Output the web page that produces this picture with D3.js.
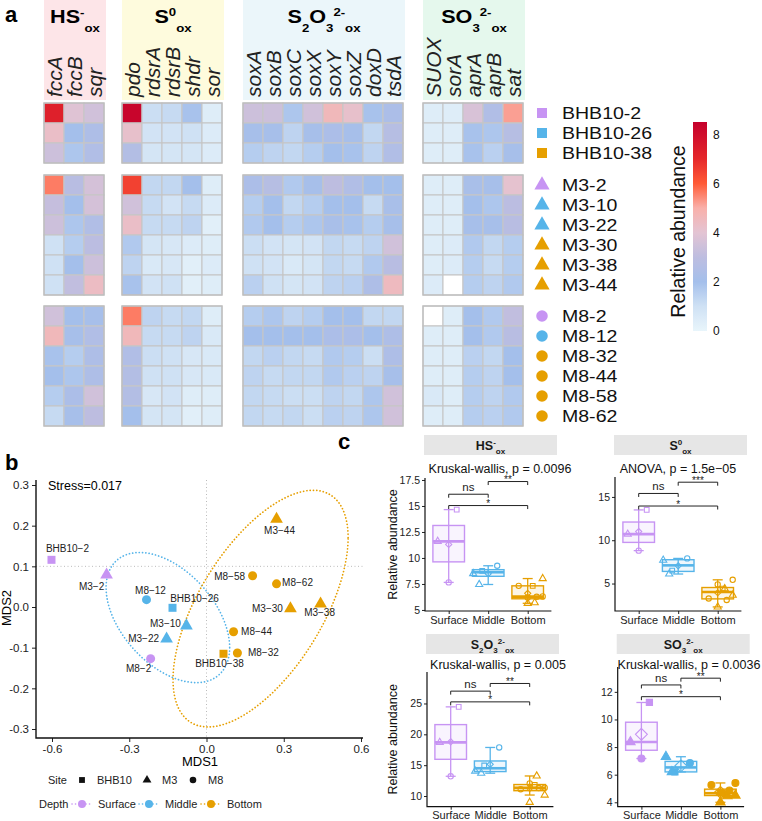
<!DOCTYPE html>
<html>
<head>
<meta charset="utf-8">
<script src="https://cdn.jsdelivr.net/npm/d3@7"></script>
<style>
  body { margin: 0; background: #fff; }
  svg { font-family: "Liberation Sans", Arial, sans-serif; }
</style>
</head>
<body>
<div id="root"></div>
<script>
// ---------- data ----------
const genesHS   = ['fccA', 'fccB', 'sqr'];
const genesS0   = ['pdo', 'rdsrA', 'rdsrB', 'shdr', 'sor'];
const genesS2O3 = ['soxA', 'soxB', 'soxC', 'soxX', 'soxY', 'soxZ', 'doxD', 'tsdA'];
const genesSO3  = ['SUOX', 'sorA', 'aprA', 'aprB', 'sat'];
const groupGenes = [genesHS, genesS0, genesS2O3, genesSO3];

// title pieces: m = main, p = superscript, b = subscript
const groupTitles = [
  [['HS', 'm'], ['-', 'p'], ['ox', 'b']],
  [['S', 'm'], ['0', 'p'], ['ox', 'b']],
  [['S', 'm'], ['2', 'b'], ['O', 'm'], ['3', 'b'], ['2-', 'p'], ['ox', 'b']],
  [['SO', 'm'], ['3', 'b'], ['2-', 'p'], ['ox', 'b']]
];

const samples = ['BHB10-2', 'BHB10-26', 'BHB10-38', 'M3-2', 'M3-10', 'M3-22', 'M3-30', 'M3-38', 'M3-44',
                 'M8-2', 'M8-12', 'M8-32', 'M8-44', 'M8-58', 'M8-62'];
const sampleSite  = ['BHB10', 'BHB10', 'BHB10', 'M3', 'M3', 'M3', 'M3', 'M3', 'M3', 'M8', 'M8', 'M8', 'M8', 'M8', 'M8'];
const sampleDepth = ['Surface', 'Middle', 'Bottom', 'Surface', 'Middle', 'Middle', 'Bottom', 'Bottom', 'Bottom',
                     'Surface', 'Middle', 'Bottom', 'Bottom', 'Bottom', 'Bottom'];
const sites  = ['BHB10', 'M3', 'M8'];
const depths = ['Surface', 'Middle', 'Bottom'];

// relative abundance, rows = samples, cols = HS(3) S0(5) S2O3(8) SO3(5)
const abundance = [
  [7.3, 3.9, 3.5,  8.3, 1.1, 1.2, 1.9, 0.4,  3.4, 3.4, 1.8, 3.5, 4.6, 4.2, 1.9, 2.3,  0.4, 0.4, 3.7, 2.5, 5.2],
  [4.3, 2.0, 2.4,  4.2, 0.9, 0.9, 1.0, 0.5,  2.1, 2.1, 1.4, 2.1, 2.3, 2.1, 1.3, 2.7,  0.4, 0.4, 1.9, 1.8, 2.7],
  [3.4, 1.8, 2.5,  2.6, 0.8, 0.8, 0.8, 0.5,  1.6, 1.4, 1.3, 1.6, 2.0, 1.9, 1.4, 2.5,  0.4, 0.4, 1.9, 1.5, 2.1],
  [5.6, 2.8, 3.6,  6.5, 1.3, 1.3, 2.0, 0.4,  2.3, 2.7, 1.7, 2.1, 3.0, 2.5, 2.0, 2.0,  0.4, 0.4, 2.2, 2.1, 4.1],
  [3.2, 2.0, 3.6,  3.5, 1.2, 0.9, 1.2, 0.5,  1.6, 2.0, 1.3, 1.6, 2.0, 2.0, 1.2, 2.2,  0.4, 0.4, 2.0, 1.8, 2.9],
  [3.4, 1.8, 2.5,  4.3, 1.2, 1.2, 1.4, 0.3,  1.7, 2.0, 1.6, 1.8, 2.2, 1.9, 1.6, 2.1,  0.4, 0.4, 2.1, 2.1, 2.8],
  [1.0, 1.6, 2.9,  1.7, 0.8, 0.7, 0.5, 0.4,  1.1, 0.9, 0.8, 0.9, 1.3, 1.2, 1.4, 3.5,  0.4, 0.5, 1.7, 1.3, 1.6],
  [1.0, 2.0, 3.4,  1.4, 0.6, 0.7, 0.3, 0.5,  1.0, 0.9, 0.6, 0.8, 1.3, 1.2, 1.7, 2.8,  0.4, 0.5, 1.6, 1.2, 1.6],
  [1.0, 3.1, 4.4,  1.9, 0.9, 1.0, 0.3, 0.4,  1.5, 1.0, 0.8, 0.9, 1.4, 1.5, 2.4, 4.5,  0.5, 0.0, 1.6, 1.4, 1.7],
  [3.5, 2.0, 2.1,  5.6, 1.4, 1.2, 1.3, 0.4,  1.6, 1.8, 1.4, 1.6, 2.0, 2.0, 1.3, 1.3,  0.0, 0.4, 2.0, 1.7, 3.1],
  [4.6, 2.1, 2.5,  4.6, 1.2, 1.2, 1.4, 0.6,  2.0, 2.0, 2.0, 2.0, 2.3, 2.3, 2.0, 2.4,  0.4, 0.4, 2.0, 1.7, 2.8],
  [1.9, 1.6, 2.4,  2.5, 1.1, 1.0, 0.7, 0.6,  1.3, 1.5, 1.3, 1.2, 1.7, 1.6, 1.1, 2.4,  0.4, 0.4, 1.5, 1.3, 2.0],
  [2.0, 1.8, 2.4,  2.6, 1.0, 1.0, 0.7, 0.6,  1.4, 1.2, 1.3, 1.3, 1.7, 1.5, 1.4, 2.1,  0.4, 0.4, 1.6, 1.4, 2.0],
  [1.6, 2.3, 3.5,  2.6, 0.7, 0.9, 0.4, 0.4,  1.3, 1.2, 1.1, 1.1, 1.4, 1.3, 1.8, 3.5,  0.6, 0.4, 1.6, 1.4, 1.7],
  [1.2, 2.1, 3.0,  2.0, 0.8, 0.8, 0.3, 0.4,  1.3, 1.2, 1.3, 1.1, 1.5, 1.4, 1.8, 3.5,  0.4, 0.4, 1.6, 1.5, 1.7]
];
const colorTicks = [0, 2, 4, 6, 8];

// NMDS scores
const mds1 = [-0.602, -0.132, 0.066, -0.388, -0.078, -0.155, 0.326, 0.443, 0.272, -0.217, -0.233, 0.12, 0.105, 0.179, 0.272];
const mds2 = [0.116, -0.002, -0.115, 0.079, -0.046, -0.078, -0.004, 0.008, 0.216, -0.127, 0.018, -0.113, -0.061, 0.077, 0.057];
const stress = 0.017;
const mdsTicksX = [-0.6, -0.3, 0, 0.3, 0.6];
const mdsTicksY = [-0.3, -0.2, -0.1, 0, 0.1, 0.2, 0.3];
// depth ellipses (centre, half width, half height, correlation) in MDS units
const ellDepth  = ['Middle', 'Bottom'];
const ellCenter = [[-0.15, -0.026], [0.21, -0.004]];
const ellHalfW  = [0.24, 0.34];
const ellHalfH  = [0.16, 0.291];
const ellRho    = [-0.46, 0.6];

// summed abundance per pathway (panel c)
const sumHS   = [14.65, 8.75, 7.32, 11.6, 8.5, 7.45, 8.02, 5.64, 5.7, 7.65, 9.25, 7.32, 6.27, 6.3, 6.2];
const sumS0   = [13.5, 6.5, 4.42, 10.7, 7.7, 6.1, 3.65, 2.3, 4.4, 8.8, 7.9, 3.27, 3.1, 5.43, 4.9];
const sumS2O3 = [24.45, 14.95, 11.8, 18.7, 14.05, 13.7, 10.16, 8.98, 13.25, 13.2, 17.87, 11.1, 11.3, 11.35, 12.05];
const sumSO3  = [11.23, 6.2, 4.6, 8.37, 7.3, 6.2, 4.5, 4.0, 4.45, 7.17, 6.85, 5.25, 4.85, 5.4, 4.7];
const boxValues = [sumHS, sumS0, sumS2O3, sumSO3];
const testTitles = ['Kruskal-wallis, p = 0.0096', 'ANOVA, p = 1.5e\u221205', 'Kruskal-wallis, p = 0.005', 'Kruskal-wallis, p = 0.0036'];
const yDomains = [[4.9, 17.69], [1.83, 17.3], [8.27, 30.1], [3.68, 13.8]];
const yTicks = [[5, 7.5, 10, 12.5, 15, 17.5], [5, 10, 15], [10, 15, 20, 25], [4, 6, 8, 10, 12]];
const sigPairs  = [[0, 1], [1, 2], [0, 2]];
const sigLabels = [['ns', '**', '*'], ['ns', '***', '*'], ['ns', '**', '*'], ['ns', '**', '*']];
const sigY = [[16.13, 17.35, 15.04], [15.4, 16.7, 13.95], [27.0, 28.24, 25.26], [12.5, 12.99, 11.65]];

// ---------- styles / layout ----------
const depthColor = d3.scaleOrdinal().domain(depths).range(['#c794f3', '#56b4e9', '#e69f00']);
const siteShape  = d3.scaleOrdinal().domain(sites).range([d3.symbolSquare, d3.symbolTriangle, d3.symbolCircle]);
const heat = d3.scaleLinear()
  .domain([0, 1, 2, 3, 4, 5, 6, 7, 8.5])
  .range(['#e8f5fb', '#cfe1f4', '#a4bfeb', '#bdbde0', '#e3c4d3', '#f9b0aa', '#ff5a36', '#e5282b', '#c4002c'])
  .clamp(true);

const HM = { blockX: [44, 122, 243, 423], blockY: [103, 175, 306], cell: 20,
             headFill: ['#fde5e8', '#fefbdd', '#ebf6fa', '#e5f8ed'] };
const labelOff = [[16, -11], [22, -9], [-4, 10], [-15, 12], [-21, -2], [-23, 0], [-23, 0], [-1, 9], [3, 11],
                  [-12, 10], [4, -9], [26, -1], [23, 0], [-23, 1], [21, -1]];
const jitter = [8, -6, 5, -11, -15, -9, 15, 0, 7, 0, 9, -9, 9, 15, 0];
const cPanels = [
  { axisX: 425,   top: 478, bottom: 611,   stripY: 435, titleX: 500, titleY: 472.5, diam: 24, filled: false, ylab: true },
  { axisX: 615,   top: 477, bottom: 611,   stripY: 435, titleX: 678, titleY: 472.5, diam: 24, filled: false, ylab: false },
  { axisX: 427,   top: 672, bottom: 806.7, stripY: 634, titleX: 498, titleY: 668.5, diam: 24, filled: false, ylab: true },
  { axisX: 617.7, top: 667, bottom: 806.7, stripY: 634, titleX: 689, titleY: 668.5, diam: 90, filled: true, ylab: false }
];

const svg = d3.select('#root').append('svg').attr('width', 762).attr('height', 821);

function richText(sel, parts, big, small, up, down) {
  let cur = 0;
  parts.forEach(([t, k]) => {
    const target = k === 'p' ? -up : k === 'b' ? down : 0;
    sel.append('tspan').text(t).attr('font-size', k === 'm' ? big : small).attr('dy', target - cur);
    cur = target;
  });
}

function panelLetter(t, x, y) {
  svg.append('text').attr('x', x).attr('y', y).attr('font-size', 22).attr('font-weight', 'bold').text(t);
}

// ---------- panel a : heatmap ----------
panelLetter('a', 5, 22);
const hm = svg.append('g');
let colOffset = 0;
groupGenes.forEach((genes, gi) => {
  const x = d3.scaleBand().domain(genes).range([HM.blockX[gi], HM.blockX[gi] + HM.cell * genes.length]);
  const off = colOffset;
  hm.append('rect').attr('x', x.range()[0]).attr('y', 0)
    .attr('width', x.range()[1] - x.range()[0] + 2).attr('height', 100).attr('fill', HM.headFill[gi]);

  const title = hm.append('text').attr('text-anchor', 'middle').attr('font-weight', 'bold')
    .attr('transform', `translate(${(x.range()[0] + x.range()[1]) / 2 + 1},22.7) scale(1.2,1)`);
  richText(title, groupTitles[gi], 18, 11, 6.5, 9.5);

  hm.selectAll(null).data(genes).enter().append('text')
    .attr('transform', d => `translate(${x(d) + x.bandwidth() / 2 + 8},97) rotate(-90)`)
    .attr('font-size', 21).attr('font-style', 'italic').attr('fill', '#222').text(d => d);

  sites.forEach((site, si) => {
    const rows = samples.filter((s, i) => sampleSite[i] === site);
    const y = d3.scaleBand().domain(rows).range([HM.blockY[si], HM.blockY[si] + HM.cell * rows.length]);
    const cells = [];
    rows.forEach(r => genes.forEach((g, j) => cells.push({ r, g, v: abundance[samples.indexOf(r)][off + j] })));
    hm.append('g').selectAll('rect').data(cells).enter().append('rect')
      .attr('x', d => x(d.g)).attr('y', d => y(d.r))
      .attr('width', x.bandwidth()).attr('height', y.bandwidth())
      .attr('fill', d => d.v <= 0 ? '#ffffff' : heat(d.v))
      .attr('stroke', '#c6c6c6').attr('stroke-width', 1.1);
    hm.append('rect').attr('x', x.range()[0]).attr('y', y.range()[0])
      .attr('width', x.range()[1] - x.range()[0]).attr('height', y.range()[1] - y.range()[0])
      .attr('fill', 'none').attr('stroke', '#bdbdbd').attr('stroke-width', 1.3);
  });
  colOffset += genes.length;
});

// row legend
sites.forEach((site, si) => {
  const rows = samples.filter((s, i) => sampleSite[i] === site);
  const y = d3.scaleBand().domain(rows).range([HM.blockY[si], HM.blockY[si] + HM.cell * rows.length]);
  rows.forEach(r => {
    const i = samples.indexOf(r);
    const cy = y(r) + y.bandwidth() / 2;
    hm.append('path').attr('d', d3.symbol(siteShape(site), site === 'M8' ? 105 : 100)())
      .attr('transform', `translate(542,${cy})`).attr('fill', depthColor(sampleDepth[i]));
    hm.append('text').attr('transform', `translate(562,${cy + 6.2}) scale(1.15,1)`)
      .attr('font-size', 17).attr('fill', '#111').text(r);
  });
});

// colour bar
const cbY = d3.scaleLinear().domain([0, 8.5]).range([331, 122]);
const grad = svg.append('defs').append('linearGradient').attr('id', 'cb')
  .attr('x1', 0).attr('y1', 1).attr('x2', 0).attr('y2', 0);
d3.range(0, 8.51, 0.25).forEach(v => grad.append('stop').attr('offset', v / 8.5).attr('stop-color', heat(v)));
hm.append('rect').attr('x', 693).attr('y', cbY(8.5)).attr('width', 14).attr('height', cbY(0) - cbY(8.5)).attr('fill', 'url(#cb)');
hm.selectAll(null).data(colorTicks).enter().append('text')
  .attr('x', 713).attr('y', d => cbY(d) + 4.3).attr('font-size', 12).attr('fill', '#111').text(d => d);
hm.append('text').attr('transform', `translate(685,${(cbY(0) + cbY(8.5)) / 2 + 5}) rotate(-90)`)
  .attr('text-anchor', 'middle').attr('font-size', 19.5).attr('fill', '#111').text('Relative abundance');

// ---------- panel b : NMDS ----------
panelLetter('b', 5, 470);
const xB = d3.scaleLinear().domain([-0.6, 0.6]).range([52, 361]);
const yB = d3.scaleLinear().domain([-0.3, 0.3]).range([729, 485]);
const gb = svg.append('g');
const fmt1 = d => d.toFixed(1);

gb.append('line').attr('x1', xB(0)).attr('x2', xB(0)).attr('y1', 480).attr('y2', 738)
  .attr('stroke', '#bbb').attr('stroke-dasharray', '1,2.5');
gb.append('line').attr('x1', 36).attr('x2', 363).attr('y1', yB(0.1)).attr('y2', yB(0.1))
  .attr('stroke', '#bbb').attr('stroke-dasharray', '1,2.5');

const ax = gb.append('g').attr('transform', 'translate(0,738)')
  .call(d3.axisBottom(xB).tickValues(mdsTicksX).tickSize(4).tickPadding(3).tickFormat(fmt1));
const ay = gb.append('g').attr('transform', 'translate(36,0)')
  .call(d3.axisLeft(yB).tickValues(mdsTicksY).tickSize(4).tickPadding(3).tickFormat(fmt1));
[ax, ay].forEach(a => {
  a.select('.domain').remove();
  a.selectAll('text').attr('font-size', 11.5).attr('fill', '#222').attr('font-family', null);
  a.selectAll('line').attr('stroke', '#222');
});
gb.append('path').attr('d', 'M36,480V738H363').attr('fill', 'none').attr('stroke', '#111').attr('stroke-width', 1.4);
gb.append('text').attr('x', 200).attr('y', 766).attr('text-anchor', 'middle').attr('font-size', 13).text('MDS1');
gb.append('text').attr('transform', 'translate(11,608) rotate(-90)').attr('text-anchor', 'middle').attr('font-size', 13).text('MDS2');
gb.append('text').attr('x', 48).attr('y', 489.5).attr('font-size', 12.5).text('Stress=' + stress);

// ellipses
const ellLine = d3.line().x(d => xB(d[0])).y(d => yB(d[1])).curve(d3.curveLinearClosed);
ellDepth.forEach((dep, k) => {
  const pts = d3.range(0, 2 * Math.PI, Math.PI / 90).map(t => [
    ellCenter[k][0] + ellHalfW[k] * Math.cos(t),
    ellCenter[k][1] + ellHalfH[k] * (ellRho[k] * Math.cos(t) + Math.sqrt(1 - ellRho[k] ** 2) * Math.sin(t))
  ]);
  gb.append('path').attr('d', ellLine(pts)).attr('fill', 'none').attr('stroke', depthColor(dep))
    .attr('stroke-width', 1.7).attr('stroke-dasharray', '0.1,3.2').attr('stroke-linecap', 'round');
});

// points + labels
samples.forEach((s, i) => {
  const px = xB(mds1[i]), py = yB(mds2[i]);
  gb.append('path').attr('d', d3.symbol(siteShape(sampleSite[i]), sampleSite[i] === 'M3' ? 70 : 64)())
    .attr('transform', `translate(${px},${py})`).attr('fill', depthColor(sampleDepth[i]));
  gb.append('text').attr('x', px + labelOff[i][0]).attr('y', py + labelOff[i][1] + 3.6)
    .attr('text-anchor', 'middle').attr('font-size', 10).attr('fill', '#222').text(s.replace('-', '\u2212'));
});

// legend
gb.append('text').attr('x', 48).attr('y', 784).attr('font-size', 11).attr('fill', '#222').text('Site');
const siteKeyX = [82, 147, 193];
sites.forEach((s, k) => {
  gb.append('path').attr('d', d3.symbol(siteShape(s), 34)()).attr('transform', `translate(${siteKeyX[k]},780)`).attr('fill', '#111');
  gb.append('text').attr('x', siteKeyX[k] + 15).attr('y', 784).attr('font-size', 11).attr('fill', '#222').text(s);
});
gb.append('text').attr('x', 39).attr('y', 808).attr('font-size', 11).attr('fill', '#222').text('Depth');
const depthKeyX = [82, 149, 211];
depths.forEach((d, k) => {
  gb.append('line').attr('x1', depthKeyX[k] - 10).attr('x2', depthKeyX[k] + 10).attr('y1', 804).attr('y2', 804)
    .attr('stroke', depthColor(d)).attr('stroke-width', 1.6).attr('stroke-dasharray', '0.1,3.4').attr('stroke-linecap', 'round');
  gb.append('circle').attr('cx', depthKeyX[k]).attr('cy', 804).attr('r', 4).attr('fill', depthColor(d));
  gb.append('text').attr('x', depthKeyX[k] + 16).attr('y', 808).attr('font-size', 11).attr('fill', '#222').text(d);
});

// ---------- panel c : boxplots ----------
panelLetter('c', 338, 449);
cPanels.forEach((L, pi) => {
  const g = svg.append('g');
  const vals = boxValues[pi];
  const x = d3.scalePoint().domain(depths).range([L.axisX, L.axisX + 126.4]).padding(0.6);
  const y = d3.scaleLinear().domain(yDomains[pi]).range([L.bottom, L.top]);
  const bw = x.step() * 0.8;

  // strip
  g.append('rect').attr('x', L.axisX - 1).attr('y', L.stripY).attr('width', 133).attr('height', 20).attr('fill', '#e6e6e6');
  const st = g.append('text').attr('x', L.axisX + 65.5).attr('y', L.stripY + 14.5)
    .attr('text-anchor', 'middle').attr('font-weight', 'bold').attr('fill', '#1a1a1a');
  richText(st, groupTitles[pi], 12.5, 8, 5, 4);

  g.append('text').attr('x', L.titleX).attr('y', L.titleY).attr('text-anchor', 'middle')
    .attr('font-size', 12.5).attr('fill', '#111').text(testTitles[pi]);

  // axes
  const yax = g.append('g').attr('transform', `translate(${L.axisX},0)`)
    .call(d3.axisLeft(y).tickValues(yTicks[pi]).tickSize(3).tickPadding(2).tickFormat(d => String(d)));
  const xax = g.append('g').attr('transform', `translate(0,${L.bottom})`)
    .call(d3.axisBottom(x).tickSize(3).tickPadding(2));
  [yax, xax].forEach(a => {
    a.select('.domain').remove();
    a.selectAll('text').attr('font-size', a === yax ? 10.5 : 11).attr('fill', '#222').attr('font-family', null);
    a.selectAll('line').attr('stroke', '#222');
  });
  g.append('path').attr('d', `M${L.axisX},${L.top}V${L.bottom}H${L.axisX + 126.4}`)
    .attr('fill', 'none').attr('stroke', '#111').attr('stroke-width', 1.2);
  if (L.ylab) {
    g.append('text').attr('transform', `translate(397,${(L.top + L.bottom) / 2}) rotate(-90)`)
      .attr('text-anchor', 'middle').attr('font-size', 12.5).attr('fill', '#111').text('Relative abundance');
  }

  // boxes
  depths.forEach(dep => {
    const v = vals.filter((_, i) => sampleDepth[i] === dep).sort(d3.ascending);
    const q1 = d3.quantile(v, 0.25), med = d3.quantile(v, 0.5), q3 = d3.quantile(v, 0.75);
    const iqr = q3 - q1;
    const lo = d3.min(v.filter(d => d >= q1 - 1.5 * iqr)), hi = d3.max(v.filter(d => d <= q3 + 1.5 * iqr));
    const cx = x(dep), col = depthColor(dep);
    g.append('line').attr('x1', cx).attr('x2', cx).attr('y1', y(hi)).attr('y2', y(lo)).attr('stroke', col).attr('stroke-width', 1.3);
    [lo, hi].forEach(w => g.append('line').attr('x1', cx - 5).attr('x2', cx + 5).attr('y1', y(w)).attr('y2', y(w))
      .attr('stroke', col).attr('stroke-width', 1.3));
    g.append('rect').attr('x', cx - bw / 2).attr('y', y(q3)).attr('width', bw).attr('height', y(q1) - y(q3))
      .attr('fill', col).attr('fill-opacity', 0.1).attr('stroke', col).attr('stroke-width', 1.4);
    g.append('line').attr('x1', cx - bw / 2).attr('x2', cx + bw / 2).attr('y1', y(med)).attr('y2', y(med))
      .attr('stroke', col).attr('stroke-width', 2.6);
    g.append('path').attr('d', d3.symbol(d3.symbolDiamond2, L.diam)())
      .attr('transform', `translate(${cx},${y(d3.mean(v))})`).attr('fill', 'none').attr('stroke', col).attr('stroke-width', 1.1);
  });

  // points
  samples.forEach((s, i) => {
    const col = depthColor(sampleDepth[i]);
    g.append('path').attr('d', d3.symbol(siteShape(sampleSite[i]), L.filled ? 38 : 22)())
      .attr('transform', `translate(${x(sampleDepth[i]) + jitter[i]},${y(vals[i])})`)
      .attr('fill', L.filled ? col : 'none').attr('stroke', col).attr('stroke-width', 1.1);
  });

  // significance brackets
  sigPairs.forEach(([a, b], k) => {
    const yy = y(sigY[pi][k]);
    const x1 = x(depths[a]), x2 = x(depths[b]);
    g.append('path').attr('d', `M${x1},${yy + 3.5}V${yy}H${x2}V${yy + 3.5}`)
      .attr('fill', 'none').attr('stroke', '#222').attr('stroke-width', 1);
    const lab = sigLabels[pi][k];
    g.append('text').attr('x', (x1 + x2) / 2).attr('y', lab === 'ns' ? yy - 3 : yy + 1.5)
      .attr('text-anchor', 'middle').attr('font-size', lab === 'ns' ? 11.5 : 10).attr('fill', '#222').text(lab);
  });
});
</script>
</body>
</html>
